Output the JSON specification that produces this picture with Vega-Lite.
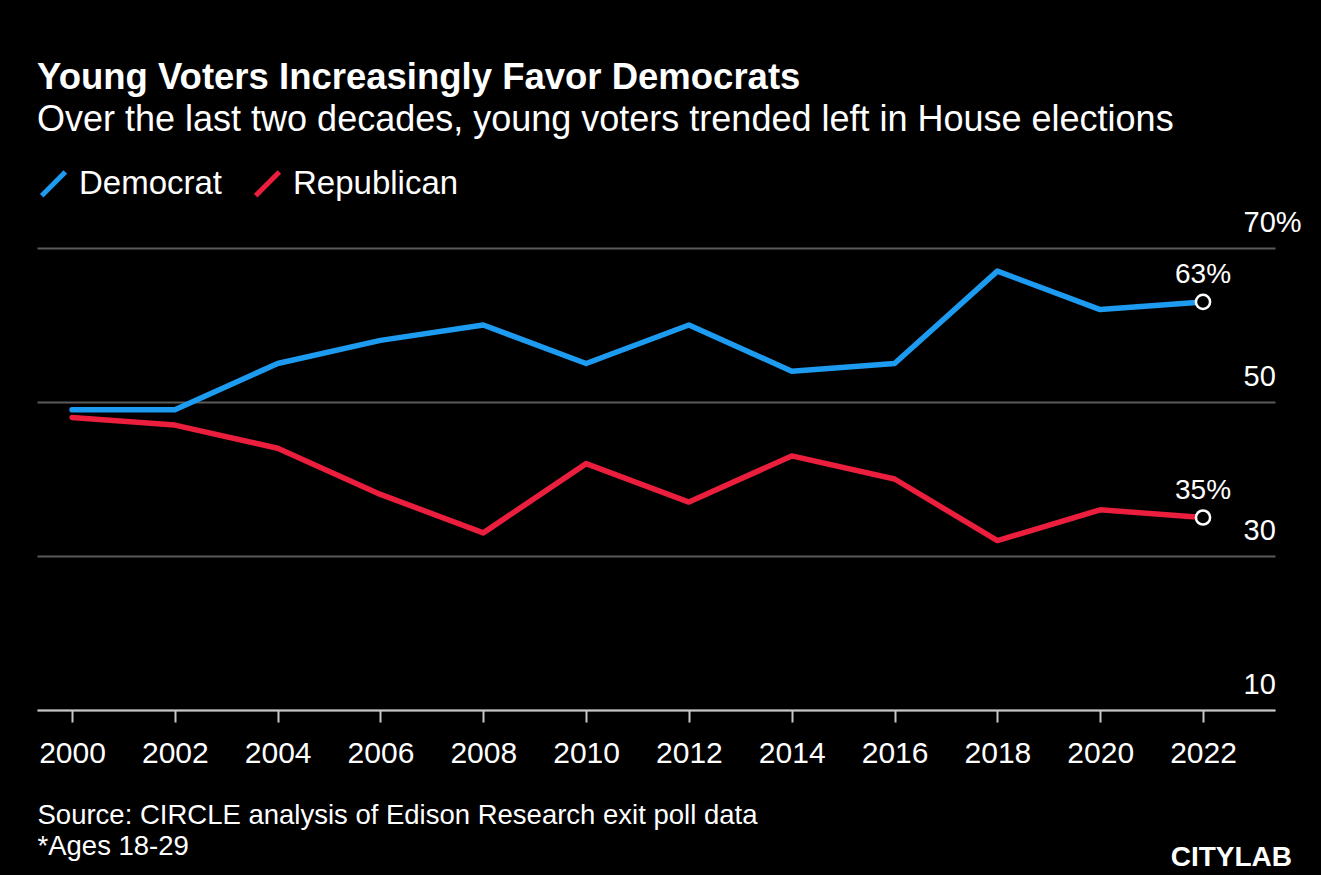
{
  "$schema": "https://vega.github.io/schema/vega-lite/v6.json",
  "width": 1238,
  "height": 462,
  "autosize": {"type": "none"},
  "padding": {"left": 37, "top": 248, "right": 46, "bottom": 165},
  "background": "black",
  "title": {
    "text": "Young Voters Increasingly Favor Democrats",
    "subtitle": "Over the last two decades, young voters trended left in House elections",
    "anchor": "start",
    "frame": "group",
    "font": "Liberation Sans",
    "fontSize": 36.5,
    "fontWeight": "bold",
    "color": "white",
    "subtitleFont": "Liberation Sans",
    "subtitleFontSize": 36,
    "subtitleColor": "white",
    "subtitlePadding": 7,
    "offset": 29
  },
  "data": {
    "values": [
      {"year": 2000, "party": "Democrat", "pct": 49},
      {"year": 2002, "party": "Democrat", "pct": 49},
      {"year": 2004, "party": "Democrat", "pct": 55},
      {"year": 2006, "party": "Democrat", "pct": 58},
      {"year": 2008, "party": "Democrat", "pct": 60},
      {"year": 2010, "party": "Democrat", "pct": 55},
      {"year": 2012, "party": "Democrat", "pct": 60},
      {"year": 2014, "party": "Democrat", "pct": 54},
      {"year": 2016, "party": "Democrat", "pct": 55},
      {"year": 2018, "party": "Democrat", "pct": 67},
      {"year": 2020, "party": "Democrat", "pct": 62},
      {"year": 2022, "party": "Democrat", "pct": 63},
      {"year": 2000, "party": "Republican", "pct": 48},
      {"year": 2002, "party": "Republican", "pct": 47},
      {"year": 2004, "party": "Republican", "pct": 44},
      {"year": 2006, "party": "Republican", "pct": 38},
      {"year": 2008, "party": "Republican", "pct": 33},
      {"year": 2010, "party": "Republican", "pct": 42},
      {"year": 2012, "party": "Republican", "pct": 37},
      {"year": 2014, "party": "Republican", "pct": 43},
      {"year": 2016, "party": "Republican", "pct": 40},
      {"year": 2018, "party": "Republican", "pct": 32},
      {"year": 2020, "party": "Republican", "pct": 36},
      {"year": 2022, "party": "Republican", "pct": 35}
    ]
  },
  "layer": [
    {
      "mark": {"type": "line", "strokeWidth": 5.5, "strokeCap": "round", "strokeJoin": "round"},
      "encoding": {
        "x": {
          "field": "year",
          "type": "quantitative",
          "scale": {"domain": [1999.319, 2023.4], "nice": false, "zero": false},
          "axis": {
            "values": [2000, 2002, 2004, 2006, 2008, 2010, 2012, 2014, 2016, 2018, 2020, 2022],
            "format": "d",
            "grid": false,
            "domainColor": "#c8c8c8",
            "domainWidth": 2,
            "tickColor": "#c8c8c8",
            "tickWidth": 2,
            "tickSize": 12,
            "labelColor": "white",
            "labelFont": "Liberation Sans",
            "labelFontSize": 30,
            "labelPadding": 16,
            "title": ["Source: CIRCLE analysis of Edison Research exit poll data", "*Ages 18-29"],
            "titleFont": "Liberation Sans",
            "titleFontSize": 27.5,
            "titleFontWeight": "normal",
            "titleColor": "white",
            "titleAnchor": "start",
            "titleAlign": "left",
            "titleLineHeight": 31,
            "titlePadding": 33
          }
        },
        "y": {
          "field": "pct",
          "type": "quantitative",
          "scale": {"domain": [10, 70], "nice": false, "zero": false},
          "axis": {
            "orient": "right",
            "values": [10, 30, 50, 70],
            "labelExpr": "datum.value == 70 ? '70%' : datum.label",
            "grid": true,
            "gridColor": "#5a5a5a",
            "gridWidth": 2,
            "domain": false,
            "ticks": false,
            "labelAlign": "left",
            "labelBaseline": "alphabetic",
            "labelPadding": -32,
            "labelOffset": -17,
            "labelColor": "white",
            "labelFont": "Liberation Sans",
            "labelFontSize": 29,
            "title": null
          }
        },
        "color": {
          "field": "party",
          "type": "nominal",
          "scale": {"domain": ["Democrat", "Republican"], "range": ["#1d9bf0", "#ec1e3e"]},
          "legend": {
            "orient": "top",
            "direction": "horizontal",
            "title": null,
            "labelColor": "white",
            "labelFont": "Liberation Sans",
            "labelFontSize": 33,
            "labelOffset": 9,
            "labelLimit": 0,
            "symbolType": "M-1,1L1,-1",
            "symbolSize": 560,
            "symbolStrokeWidth": 5,
            "columnPadding": 22,
            "offset": 42
          }
        }
      }
    },
    {
      "transform": [{"filter": "datum.year == 2022"}],
      "mark": {"type": "point", "filled": true, "fill": "black", "stroke": "white", "strokeWidth": 2.5, "size": 200, "opacity": 1},
      "encoding": {
        "x": {"field": "year", "type": "quantitative"},
        "y": {"field": "pct", "type": "quantitative"}
      }
    },
    {
      "transform": [{"filter": "datum.year == 2022"}, {"calculate": "datum.pct + '%'", "as": "label"}],
      "mark": {"type": "text", "color": "white", "font": "Liberation Sans", "fontSize": 28, "baseline": "alphabetic", "dy": -19},
      "encoding": {
        "x": {"field": "year", "type": "quantitative"},
        "y": {"field": "pct", "type": "quantitative"},
        "text": {"field": "label"}
      }
    },
    {
      "data": {"values": [{"brand": "CITYLAB"}]},
      "mark": {"type": "text", "color": "white", "font": "Liberation Sans", "fontSize": 28, "fontWeight": 900, "align": "right", "baseline": "alphabetic", "dx": 17, "dy": 156},
      "encoding": {
        "text": {"field": "brand"},
        "x": {"datum": 2023.4, "type": "quantitative"},
        "y": {"datum": 10, "type": "quantitative"}
      }
    }
  ],
  "config": {"view": {"stroke": null}}
}
